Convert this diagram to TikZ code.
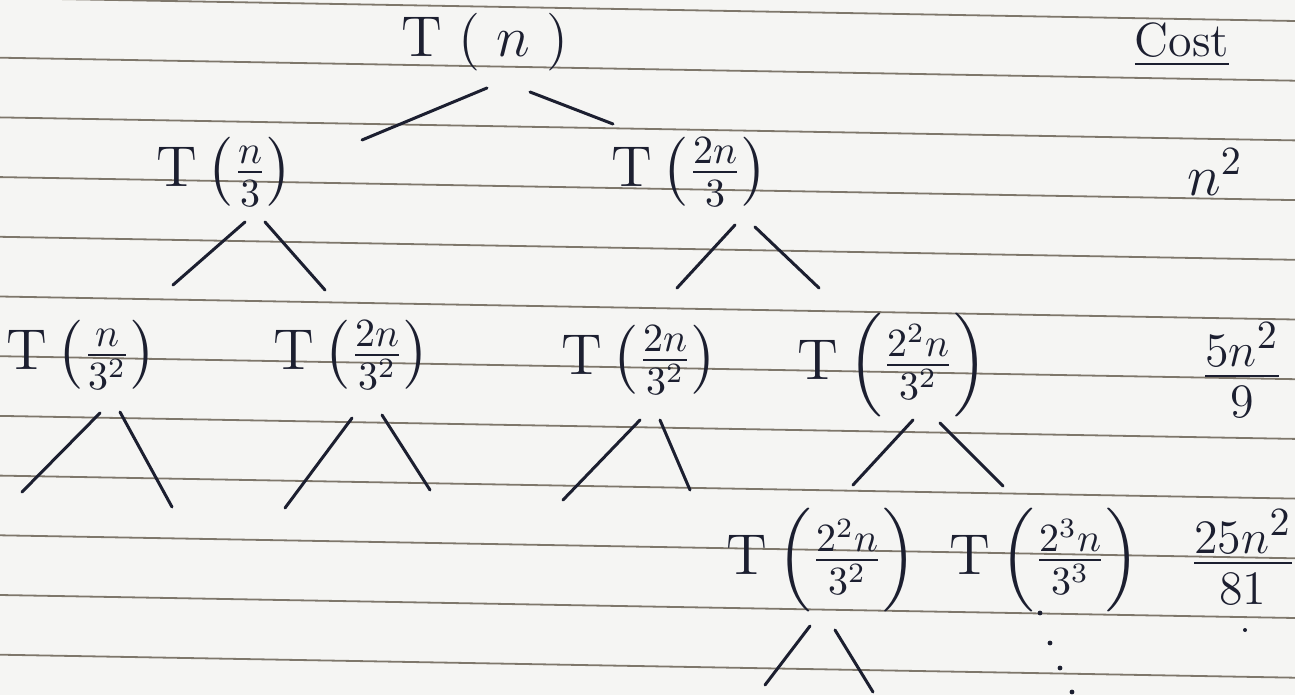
\documentclass[tikz,border=0pt]{standalone}
\usepackage{amsmath,amssymb}
\usepackage{xcolor}
\usepackage{tikz}
\usetikzlibrary{calc,positioning}
\definecolor{ink}{HTML}{1C1F30}
\definecolor{paper}{HTML}{F5F5F3}
\definecolor{rulegray}{HTML}{7E776B}
\tikzset{
  term/.style={inner sep=1pt,text=ink,font=\Large},
  cost/.style={inner sep=1pt,text=ink,font=\LARGE},
  branch/.style={ink,line width=0.75pt,line cap=round},
  rule/.style={rulegray,line width=0.45pt},
  inkdot/.style={ink}
}
\newcommand{\Tof}[1]{\mathrm{T}\left(#1\right)}

\begin{document}
\begin{tikzpicture}[x=0.25pt,y=-0.25pt]
\fill[paper] (0,0) rectangle (1295,695);
\useasboundingbox (0,0) rectangle (1295,695);
% ruled paper
\begin{scope}
\clip (0,0) rectangle (1295,695);
\foreach \k in {0,...,11}
  \draw[rule] (0,{-2+59.7*\k}) -- (1295,{21+59.7*\k});
\end{scope}
% level 0
\node[term] (root) at (485,42) {$\mathrm{T}\;(\;n\;)$};
\node[cost,font=\large] (costhead) at (1182,45) {\underline{Cost}};
% level 1
\node[term] (na) at (225,172) {$\Tof{\tfrac{n}{3}}$};
\node[term] (nb) at (690,172) {$\Tof{\tfrac{2n}{3}}$};
\node[cost,font=\Large] (c1) at (1215,172) {$n^2$};
% level 2
\node[term] (naa) at (82,355) {$\Tof{\tfrac{n}{3^2}}$};
\node[term] (nab) at (352,355) {$\Tof{\tfrac{2n}{3^2}}$};
\node[term] (nba) at (640,360) {$\Tof{\tfrac{2n}{3^2}}$};
\node[term] (nbb) at (893,365) {$\Tof{\tfrac{2^2n}{3^2}}$};
\node[cost] (c2) at (1242,370) {$\tfrac{5n^2}{9}$};
% level 3
\node[term] (nbba) at (822,560) {$\Tof{\tfrac{2^2n}{3^2}}$};
\node[term] (nbbb) at (1045,560) {$\Tof{\tfrac{2^3n}{3^3}}$};
\node[cost] (c3) at (1243,557) {$\tfrac{25n^2}{81}$};
% free ends of the branches
\coordinate (e1) at (362,140);
\coordinate (e2) at (613,124);
\coordinate (e3) at (173,285);
\coordinate (e4) at (325,290);
\coordinate (e5) at (677,288);
\coordinate (e6) at (819,288);
\coordinate (e7) at (22,492);
\coordinate (e8) at (172,507);
\coordinate (e9) at (285,508);
\coordinate (e10) at (430,490);
\coordinate (e11) at (563,500);
\coordinate (e12) at (690,490);
\coordinate (e13) at (853,485);
\coordinate (e14) at (1003,486);
\coordinate (e15) at (765,685);
\coordinate (e16) at (873,692);
% branches
\draw[branch] ($(root)+(2,46)$) -- (e1);
\draw[branch] ($(root)+(45,50)$) -- (e2);
\draw[branch] ($(na)+(20,50)$) -- (e3);
\draw[branch] ($(na)+(40,50)$) -- (e4);
\draw[branch] ($(nb)+(45,53)$) -- (e5);
\draw[branch] ($(nb)+(65,55)$) -- (e6);
\draw[branch] ($(naa)+(18,58)$) -- (e7);
\draw[branch] ($(naa)+(38,57)$) -- (e8);
\draw[branch] ($(nab)+(0,63)$) -- (e9);
\draw[branch] ($(nab)+(30,60)$) -- (e10);
\draw[branch] ($(nba)+(0,60)$) -- (e11);
\draw[branch] ($(nba)+(20,60)$) -- (e12);
\draw[branch] ($(nbb)+(20,55)$) -- (e13);
\draw[branch] ($(nbb)+(47,58)$) -- (e14);
\draw[branch] ($(nbba)+(-12,66)$) -- (e15);
\draw[branch] ($(nbba)+(13,70)$) -- (e16);
% dots below the last term
\foreach \p in {(1040,613),(1050,643),(1060,668),(1072,692)}
  \fill[inkdot] \p circle (0.6pt);
\fill[inkdot] (1245,630) circle (0.5pt);
\end{tikzpicture}
\end{document}
